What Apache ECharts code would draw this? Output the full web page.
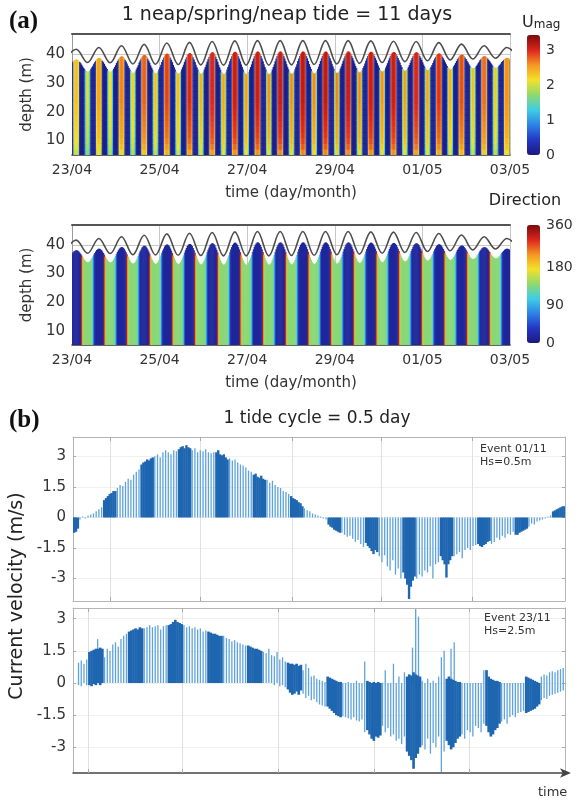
<!DOCTYPE html>
<html><head><meta charset="utf-8">
<script src="https://cdn.jsdelivr.net/npm/echarts@6/dist/echarts.min.js"></script>
<style>html,body{margin:0;padding:0;background:#fff}#c{width:579px;height:802px}</style>
</head><body><div id="c"></div>
<script>
// ================= Panel (a) data =================
const dateLabels = ['23/04','25/04','27/04','29/04','01/05','03/05'];
const depthTicks = [10,20,30,40];
const tideStart = 0.095;     // first high water, days after 23/04
const tidePeriod = 0.5175;   // semi-diurnal tide period, days
// water level (m) at successive high waters / low waters (LW before HW0 first)
const hwLevel = [41.7,42.3,42.9,43.4,43.9,44.1,44.4,44.6,44.7,44.7,44.7,44.7,44.7,44.6,44.5,44.4,44.0,43.5,42.9,42.3];
const lwLevel = [37.8,37.1,37.0,36.6,36.5,36.4,36.3,36.2,36.2,36.2,36.3,36.4,36.6,36.8,37.1,37.4,37.7,38.0,38.3,38.6,38.8];
// peak current magnitude (m/s) of the column around each HW / LW
const hwSpeed = [2.35,2.5,2.65,2.8,2.9,3.0,3.05,3.1,3.1,3.15,3.15,3.15,3.15,3.1,3.1,3.05,2.95,2.85,2.75,2.6];
const lwSpeed = [1.95,2.05,2.15,2.25,2.35,2.4,2.45,2.5,2.55,2.6,2.62,2.65,2.65,2.62,2.6,2.55,2.5,2.45,2.35,2.3,2.25];
// within a half tide (12 steps): relative speed around HW and LW, share of the way to the next extreme level
const phaseShapeHW = [0.02,0.05,0.2,0.9,0.98,1,1,0.98,0.9,0.2,0.05,0.02];
const phaseShapeLW = [0.02,0.05,0.12,0.6,0.92,1,1,0.92,0.6,0.12,0.05,0.02];
const levelShape = [0.43,0.31,0.2,0.1,0.04,0,0,0.04,0.1,0.2,0.31,0.43];
// relative speed of 2 m depth bins from the bed (5 m) upwards
const depthFactor = [0.84,0.89,0.92,0.94,0.95,0.96,0.97,0.98,0.99,1,1,1,1,1,1,1,1,1];
const binBase = 5, binSize = 2;
const surfaceBlank = 0.915;   // measured profile stops at this fraction of water level
// current direction (deg) across a half tide
const dirShapeHW = [60,22,15,15,15,15,15,15,15,15,18,320];
const dirShapeLW = [230,145,138,138,138,138,138,138,138,138,132,105];
// colour bars
const umagTicks = [0,1,2,3];
const umagMax = 3.43;
const dirTicks = [0,90,180,360];
const dirTickFrac = [0,0.32,0.64,1];

// ================= Panel (b) data =================
const bTickVals = [-3,-1.5,0,1.5,3];
const bTickLabels = ['-3','-1.5','0','1.5','3'];
// Event 01/11 (hours)
const b1GridT = [0.99,3.39,5.87,8.25,10.66];
const b1BurstT = [-0.2,0.8,1.8,2.8,3.8,4.8,5.8,6.8,7.8,8.8,9.8,10.8,11.8,12.8];
const b1BurstLen = 0.35;
const b1BurstVals = [
 [-0.4,-0.45,-0.5,-0.6,-0.75,-0.7,-0.55],
 [0.85,0.95,1.05,1.15,1.2,1.3,1.3],
 [2.6,2.7,2.75,2.85,2.8,2.9,2.95],
 [3.35,3.45,3.5,3.4,3.55,3.45,3.4],
 [3.2,3.3,3.1,3.05,3.1,2.95,2.85],
 [2.1,2.15,2.0,1.95,2.05,1.9,1.85],
 [1.05,0.95,0.9,0.85,0.75,0.7,0.55],
 [-0.35,-0.45,-0.5,-0.6,-0.65,-0.7,-0.75],
 [-1.25,-1.4,-1.5,-1.65,-1.8,-1.6,-1.7],
 [-2.7,-3.0,-3.3,-4.0,-3.4,-3.1,-2.9],
 [-1.9,-2.1,-2.3,-2.95,-2.3,-2.1,-1.9],
 [-1.3,-1.4,-1.45,-1.35,-1.3,-1.2,-1.15],
 [-0.85,-0.85,-0.75,-0.7,-0.65,-0.6,-0.55],
 [0.3,0.35,0.4,0.45,0.5,0.55,0.55]
];
const b1LineVals = [
 [-0.1,0.05,-0.05,0.1,0.15,0.2,0.3,0.4,0.5],
 [1.45,1.6,1.55,1.75,1.9,1.85,2.1,2.25,2.35],
 [3.0,3.1,2.95,3.2,3.3,3.2,3.1,3.3,3.25],
 [3.3,3.4,3.2,3.3,3.25,3.35,3.2,3.15,3.2],
 [2.9,2.8,2.85,2.7,2.6,2.55,2.45,2.3,2.25],
 [1.85,1.7,1.8,1.6,1.5,1.45,1.3,1.25,1.15],
 [0.45,0.35,0.3,0.2,0.15,0.1,0.05,-0.05,-0.1],
 [-0.75,-0.85,-0.95,-0.9,-1.05,-1.2,-1.1,-1.3,-1.45],
 [-1.9,-2.2,-1.85,-2.4,-2.6,-2.1,-2.8,-2.5,-3.0],
 [-3.0,-2.8,-2.9,-2.6,-2.7,-2.4,-3.0,-2.3,-2.2],
 [-1.9,-1.8,-1.7,-2.0,-1.6,-1.5,-1.6,-1.4,-1.35],
 [-1.3,-1.2,-1.0,-1.1,-0.9,-1.0,-0.8,-0.85,-0.7],
 [-0.45,-0.3,-0.35,-0.2,-0.15,-0.1,-0.05,0.05,0.1],
 []
];
// Event 23/11 (hours)
const b2GridT = [0.38,2.76,5.17,7.59,9.98];
const b2BurstT = [-0.62,0.38,1.38,2.38,3.38,4.38,5.38,6.38,7.38,8.38,9.38,10.38,11.38];
const b2BurstLen = 0.38;
const b2BurstTop = [
 [],
 [1.45,1.5,1.55,1.6,1.6,1.65,1.6],
 [2.4,2.45,2.5,2.55,2.5,2.6,2.55],
 [2.7,2.75,2.85,2.95,2.85,2.8,2.75],
 [2.4,2.35,2.3,2.3,2.25,2.2,2.2],
 [1.75,1.7,1.65,1.6,1.6,1.55,1.5],
 [0.95,0.9,0.9,0.85,0.9,0.8,0.85],
 [0.3,0.25,0.2,0.15,0.1,0.05,0.05],
 [0.1,0.05,0,0.05,0,0.05,0],
 [0.3,0.4,0.35,0.5,0.4,0.35,0.3],
 [0.2,0.3,0.2,0.15,0.1,0.05,0.05],
 [0.6,0.3,0.2,0.15,0.1,0.1,0.05],
 [0.3,0.25,0.2,0.15,0.1,0.05,0]
];
const b2BurstBot = [
 [],
 [-0.1,-0.15,-0.05,-0.1,0,-0.1,0],
 [0,0,0,0,0,0,0],
 [0,0,0,0,0,0,0],
 [0,0,0,0,0,0,0],
 [0,0,0,0,0,0,0],
 [-0.3,-0.45,-0.55,-0.5,-0.4,-0.55,-0.35],
 [-1.1,-1.2,-1.3,-1.4,-1.5,-1.55,-1.6],
 [-2.2,-2.4,-2.6,-2.7,-2.5,-2.55,-2.45],
 [-3.2,-3.4,-3.6,-4.0,-3.5,-3.3,-3.0],
 [-2.7,-2.9,-3.1,-3.0,-2.8,-2.6,-2.5],
 [-2.0,-2.3,-2.5,-2.4,-2.2,-2.1,-1.9],
 [-1.4,-1.35,-1.3,-1.25,-1.2,-1.1,-1.0]
];
const b2LineTop = [
 [null,null,null,null,null,0.95,1.05,0.9,1.1],
 [1.2,1.6,1.5,1.8,1.9,1.7,2.05,2.2,2.3],
 [2.55,2.6,2.7,2.6,2.65,2.7,2.5,2.65,2.7],
 [2.7,2.6,2.65,2.55,2.6,2.5,2.55,2.4,2.45],
 [2.2,2.1,2.05,1.95,2.0,1.9,1.85,1.8,1.75],
 [1.45,1.4,1.6,1.3,1.25,1.45,1.1,1.2,1.0],
 [0.6,0.9,0.7,0.3,0.35,0.2,0.15,0.1,0.05],
 [0,0,0.05,0,0,0.1,0,0,1.0],
 [0,0.6,0,0,0.9,0,0.3,0,0.5],
 [0.1,0,0.2,0,0.1,0,0.3,1.2,1.5],
 [0,0,0,0,0,0,0,0,0.6],
 [0,0,0,0,0,0,0,0,0],
 [0.3,0.4,0.35,0.5,0.55,0.5,0.6,0.65,0.7]
];
const b2LineBot = [
 [null,null,null,null,null,-0.1,-0.15,0,-0.1],
 [0,0,0,0,0,0,0,0,0],
 [0,0,0,0,0,0,0,0,0],
 [0,0,0,0,0,0,0,0,0],
 [0,0,0,0,0,0,0,0,0],
 [0,0,0,0,-0.1,0,-0.15,-0.1,-0.2],
 [-0.5,-0.7,-0.6,-0.8,-0.75,-0.9,-1.0,-1.05,-1.1],
 [-1.55,-1.6,-1.65,-1.7,-1.6,-1.75,-1.8,-1.7,-2.3],
 [-2.0,-2.3,-2.1,-2.5,-2.4,-2.7,-2.6,-2.85,-2.5],
 [-2.9,-3.1,-2.6,-3.3,-2.8,-3.0,-2.5,-4.15,-3.2],
 [-2.4,-2.6,-2.2,-2.3,-2.5,-2.0,-2.1,-2.3,-1.9],
 [-1.8,-1.7,-1.9,-1.6,-1.5,-1.6,-1.4,-1.35,-1.3],
 [-0.8,-0.7,-0.75,-0.6,-0.55,-0.5,-0.45,-0.4,-0.35]
];
const b2Spikes = [[0.62,0,2.05],[8.55,0,1.65],[8.63,0,3.45],[8.7,0,3.1],[9.52,0,1.6],[9.6,0,1.9]];

// ================= styles =================
const jetColors = ['#1c1a7c','#2436c4','#2d82e4','#3fcde6','#8fd96d','#f3e12a','#f59624','#dd241d','#7a0b0b'];
const FONT = 'DejaVu Sans';
const blockColor = '#1f66b0';
const lineColor = '#5fa3dc';

// ================= build tables =================
function dirFrac(d) {
  for (let i = 1; i < dirTicks.length; i++) {
    if (d <= dirTicks[i]) {
      const a = dirTicks[i-1], b = dirTicks[i];
      return dirTickFrac[i-1] + (d - a) / (b - a) * (dirTickFrac[i] - dirTickFrac[i-1]);
    }
  }
  return 1;
}
const colW = tidePeriod / 24;
const hMax = hwLevel.length * 2 - 1;
function halfInfo(h) {
  const isHW = ((h % 2) + 2) % 2 === 0;
  const k = isHW ? h / 2 : (h + 1) / 2;
  return { isHW, level: isHW ? hwLevel[k] : lwLevel[k], speed: isHW ? hwSpeed[k] : lwSpeed[k], tc: tideStart + h * tidePeriod / 2 };
}
const speedCells = [], dirCells = [], waveLine = [];
for (let h = -1; h <= hMax; h++) {
  const cur = halfInfo(h);
  waveLine.push([cur.tc, cur.level]);
  const prevL = h > -1 ? halfInfo(h - 1).level : halfInfo(h + 1).level;
  const nextL = h < hMax ? halfInfo(h + 1).level : halfInfo(h - 1).level;
  const shape = cur.isHW ? phaseShapeHW : phaseShapeLW;
  for (let j = 0; j < 12; j++) {
    const t = cur.tc - tidePeriod / 4 + (j + 0.5) * colW;
    const side = j < 6 ? prevL : nextL;
    const lev = cur.level + (side - cur.level) * levelShape[j];
    const top = lev * surfaceBlank;
    const sp = cur.speed * shape[j];
    for (let b = 0; b < depthFactor.length; b++) {
      const z0 = binBase + b * binSize;
      if (z0 >= top) break;
      const z1 = Math.min(z0 + binSize, top);
      speedCells.push([t, z0, z1, +(sp * depthFactor[b]).toFixed(3)]);
    }
    const d = cur.isHW ? dirShapeHW[j] : dirShapeLW[j];
    dirCells.push([t, binBase, top, d, dirFrac(d)]);
  }
}
function buildB(burstT, len, tops, bots, lineTops, lineBots, spikes) {
  const lines = [], blocks = [];
  burstT.forEach((t0, k) => {
    const n = tops[k].length;
    for (let s = 0; s < n; s++) {
      blocks.push([t0 + (s + 0.5) * len / n, Math.min(bots[k][s], tops[k][s]), Math.max(bots[k][s], tops[k][s]), len / n, 0]);
    }
    const gap = (k + 1 < burstT.length ? burstT[k + 1] : t0 + 1) - t0 - len;
    const m = lineTops[k].length;
    for (let j = 0; j < m; j++) {
      const a = lineTops[k][j], b = lineBots[k][j];
      if (a === null || b === null || a === b) continue;
      lines.push([t0 + len + (j + 0.5) * gap / m, Math.min(a, b), Math.max(a, b), 0, 1]);
    }
  });
  (spikes || []).forEach(s => lines.push([s[0], s[1], s[2], 0, 1]));
  return lines.concat(blocks);
}
const b1Tops = b1BurstVals.map(a => a.map(v => Math.max(v, 0)));
const b1Bots = b1BurstVals.map(a => a.map(v => Math.min(v, 0)));
const b1LTops = b1LineVals.map(a => a.map(v => Math.max(v, 0)));
const b1LBots = b1LineVals.map(a => a.map(v => Math.min(v, 0)));
const b1Data = buildB(b1BurstT, b1BurstLen, b1Tops, b1Bots, b1LTops, b1LBots, []);
const b2Data = buildB(b2BurstT, b2BurstLen, b2BurstTop, b2BurstBot, b2LineTop, b2LineBot, b2Spikes);

// ================= render helpers =================
function clipRect(x, y, w, h, cs) {
  const x0 = Math.max(x, cs.x), x1 = Math.min(x + w, cs.x + cs.width);
  const y0 = Math.max(y, cs.y), y1 = Math.min(y + h, cs.y + cs.height);
  if (x1 <= x0 || y1 <= y0) return null;
  return { x: x0, y: y0, width: x1 - x0, height: y1 - y0 };
}
function renderCell(params, api) {
  const t = api.value(0), z0 = api.value(1), z1 = api.value(2);
  const p0 = api.coord([t - colW / 2, z1]);
  const p1 = api.coord([t + colW / 2, z0]);
  const r = clipRect(p0[0], p0[1], p1[0] - p0[0] + 0.6, p1[1] - p0[1] + 0.5, params.coordSys);
  if (!r) return null;
  return { type: 'rect', shape: r, style: { fill: api.visual('color') } };
}
function renderBar(params, api) {
  const t = api.value(0), lo = api.value(1), hi = api.value(2), w = api.value(3), kind = api.value(4);
  const pHi = api.coord([t, hi]), pLo = api.coord([t, lo]);
  let x, width;
  if (kind === 1) { x = pHi[0] - 0.65; width = 1.3; }
  else { const s = api.size([w, 0])[0]; x = pHi[0] - s / 2; width = s + 0.5; }
  const r = clipRect(x, pHi[1], width, Math.max(pLo[1] - pHi[1], 1), params.coordSys);
  if (!r) return null;
  return { type: 'rect', shape: r, style: { fill: kind === 1 ? lineColor : blockColor } };
}

// ================= axes =================
function heatX(grid) {
  return {
    type: 'value', gridIndex: grid, min: 0, max: 10, interval: 2,
    axisLine: { onZero: false, lineStyle: { color: '#333', width: 1.5 } },
    axisTick: { show: false },
    axisLabel: { formatter: v => dateLabels[Math.round(v / 2)], fontSize: 14, color: '#333', margin: 8, fontFamily: FONT, showMinLabel: true, showMaxLabel: true },
    splitLine: { show: true, lineStyle: { color: '#c8c8c8', width: 1 } },
    name: 'time (day/month)', nameLocation: 'middle', nameGap: 31,
    nameTextStyle: { fontSize: 15, color: '#333', fontFamily: FONT }
  };
}
function heatXTop(grid) {
  return { type: 'value', gridIndex: grid, position: 'top', min: 0, max: 10,
    axisLine: { onZero: false, lineStyle: { color: '#555', width: 2 } },
    axisTick: { show: false }, axisLabel: { show: false }, splitLine: { show: false } };
}
function heatY(grid) {
  return {
    type: 'value', gridIndex: grid, min: 5, max: 47,
    axisLine: { show: true, onZero: false, lineStyle: { color: '#9a9a9a' } },
    axisTick: { show: false, customValues: depthTicks },
    axisLabel: { customValues: depthTicks, fontSize: 15, color: '#333', margin: 7, fontFamily: FONT },
    splitLine: { show: true, lineStyle: { color: '#c8c8c8' } },
    name: 'depth (m)', nameLocation: 'middle', nameGap: 36,
    nameTextStyle: { fontSize: 15, color: '#333', fontFamily: FONT }
  };
}
function bX(grid, max, ticks, pos, dark) {
  const o = {
    type: 'value', gridIndex: grid, min: 0, max: max, position: pos,
    axisLine: { onZero: false, lineStyle: { color: dark ? '#444' : '#b5b5b5', width: dark ? 1.5 : 1 } },
    axisTick: { show: true, inside: true, length: 4, customValues: ticks, lineStyle: { color: '#aaa' } },
    axisLabel: { show: false },
    splitLine: { show: pos === 'bottom', lineStyle: { color: '#e0e0e0' } }
  };
  if (dark) { o.axisLine.symbol = ['none', 'arrow']; o.axisLine.symbolSize = [7, 11]; o.axisLine.symbolOffset = [0, 6]; }
  return o;
}
function bY(grid, min, max, pos) {
  const left = pos === 'left';
  return {
    type: 'value', gridIndex: grid, min: min, max: max, position: pos,
    axisLine: { show: true, onZero: false, lineStyle: { color: '#b5b5b5' } },
    axisTick: { show: true, inside: true, length: 3, customValues: bTickVals, lineStyle: { color: '#aaa' } },
    axisLabel: { show: left, customValues: bTickVals, formatter: v => bTickLabels[bTickVals.indexOf(v)], fontSize: 15, color: '#333', margin: 7, fontFamily: FONT },
    splitLine: { show: left, lineStyle: { color: '#f0f0f0' } }
  };
}

function txt(text, x, y, font, extra) {
  return Object.assign({ type: 'text', x: x, y: y, silent: true, z: 100,
    style: Object.assign({ text: text, font: font, fill: '#222', align: 'left', verticalAlign: 'middle', textAlign: 'left', textVerticalAlign: 'middle' }, extra || {}) });
}

const option = {
  animation: false,
  backgroundColor: '#fff',
  textStyle: { fontFamily: FONT },
  grid: [
    { left: 72, top: 34, width: 438, height: 121 },
    { left: 72, top: 225, width: 438, height: 120 },
    { left: 527, top: 35, width: 13, height: 120 },
    { left: 527, top: 225, width: 13, height: 118 },
    { left: 73, top: 437, width: 492, height: 164 },
    { left: 73, top: 608, width: 492, height: 165 }
  ],
  xAxis: [
    heatX(0), heatXTop(0), heatX(1), heatXTop(1),
    { type: 'value', gridIndex: 2, min: 0, max: 1, show: false },
    { type: 'value', gridIndex: 3, min: 0, max: 1, show: false },
    bX(4, 13.15, b1GridT, 'bottom', false), bX(4, 13.15, b1GridT, 'top', false),
    bX(5, 12.39, b2GridT, 'bottom', true), bX(5, 12.39, b2GridT, 'top', false)
  ],
  yAxis: [
    heatY(0), heatY(1),
    { type: 'value', gridIndex: 2, min: 0, max: umagMax, position: 'right',
      axisLine: { show: false }, axisTick: { show: false }, splitLine: { show: false },
      axisLabel: { customValues: umagTicks, fontSize: 14, color: '#333', margin: 6, fontFamily: FONT } },
    { type: 'value', gridIndex: 3, min: 0, max: 1, position: 'right',
      axisLine: { show: false }, axisTick: { show: false }, splitLine: { show: false },
      axisLabel: { customValues: dirTickFrac, formatter: v => String(dirTicks[dirTickFrac.indexOf(v)]), fontSize: 14, color: '#333', margin: 6, fontFamily: FONT } },
    bY(4, -4.1, 3.95, 'left'), bY(4, -4.1, 3.95, 'right'),
    bY(5, -4.2, 3.5, 'left'), bY(5, -4.2, 3.5, 'right')
  ],
  visualMap: [
    { type: 'continuous', seriesIndex: 0, dimension: 3, min: 0, max: umagMax,
      inRange: { color: jetColors }, left: 527, top: 35, itemWidth: 13, itemHeight: 120,
      padding: 0, calculable: false, hoverLink: false, text: null, orient: 'vertical' },
    { type: 'continuous', seriesIndex: 2, dimension: 4, min: 0, max: 1,
      inRange: { color: jetColors }, left: 527, top: 225, itemWidth: 13, itemHeight: 118,
      padding: 0, calculable: false, hoverLink: false, text: null, orient: 'vertical' }
  ],
  series: [
    { type: 'custom', name: 'Umag', xAxisIndex: 0, yAxisIndex: 0, data: speedCells, renderItem: renderCell,
      encode: { x: 0, y: [1, 2] }, progressive: 0, silent: true },
    { type: 'line', name: 'surface', xAxisIndex: 0, yAxisIndex: 0, data: waveLine, symbol: 'none', showSymbol: false,
      smooth: 0.36, lineStyle: { color: '#4d4d4d', width: 1.6 }, silent: true },
    { type: 'custom', name: 'Direction', xAxisIndex: 2, yAxisIndex: 1, data: dirCells, renderItem: renderCell,
      encode: { x: 0, y: [1, 2] }, progressive: 0, silent: true },
    { type: 'line', name: 'surface2', xAxisIndex: 2, yAxisIndex: 1, data: waveLine, symbol: 'none', showSymbol: false,
      smooth: 0.36, lineStyle: { color: '#4d4d4d', width: 1.6 }, silent: true },
    { type: 'custom', name: 'Event 01/11', xAxisIndex: 6, yAxisIndex: 4, data: b1Data, renderItem: renderBar,
      encode: { x: 0, y: [1, 2] }, progressive: 0, silent: true },
    { type: 'custom', name: 'Event 23/11', xAxisIndex: 8, yAxisIndex: 6, data: b2Data, renderItem: renderBar,
      encode: { x: 0, y: [1, 2] }, progressive: 0, silent: true }
  ],
  graphic: [
    txt('(a)', 9, 22, 'bold 25px "Liberation Serif"', { fill: '#111' }),
    txt('1 neap/spring/neap tide = 11 days', 287, 15, '19px "DejaVu Sans"', { align: 'center', textAlign: 'center' }),
    txt('{u|U}{m|mag}', 522, 21, '16px "DejaVu Sans"', { rich: {
      u: { fontSize: 16, fontFamily: FONT, fill: '#222', color: '#222', lineHeight: 20, verticalAlign: 'bottom' },
      m: { fontSize: 12, fontFamily: FONT, fill: '#222', color: '#222', lineHeight: 20, verticalAlign: 'bottom' } } }),
    txt('Direction', 525, 201, '16px "DejaVu Sans"', { align: 'center', textAlign: 'center' }),
    txt('(b)', 9, 421, 'bold 25px "Liberation Serif"', { fill: '#111' }),
    txt('1 tide cycle = 0.5 day', 317, 419, '17px "DejaVu Sans"', { align: 'center', textAlign: 'center' }),
    txt('Event 01/11\nHs=0.5m', 480, 456, '11px "DejaVu Sans"', { lineHeight: 13, fill: '#333' }),
    txt('Event 23/11\nHs=2.5m', 484, 625, '11px "DejaVu Sans"', { lineHeight: 13, fill: '#333' }),
    txt('time', 538, 793, '13px "DejaVu Sans"', { fill: '#333' }),
    Object.assign(txt('Current velocity (m/s)', 0, 0, '19px "DejaVu Sans"', { align: 'center', textAlign: 'center', fill: '#222' }), { x: 17, y: 596, rotation: Math.PI / 2 })
  ]
};
const chart = echarts.init(document.getElementById('c'), null, { renderer: 'canvas' });
chart.setOption(option);
</script>
</body></html>
